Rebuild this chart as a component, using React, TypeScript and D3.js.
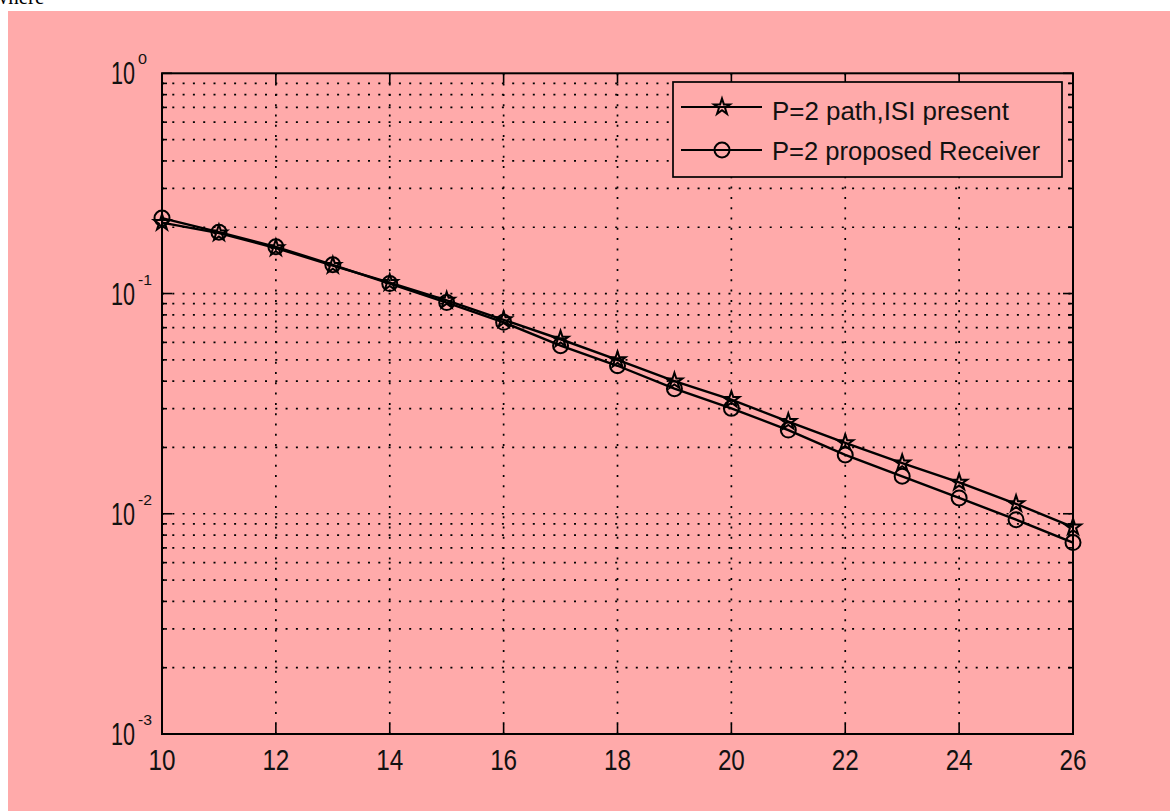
import * as d3 from "d3";

// SNR (dB) values on the x axis
const snr = [10, 11, 12, 13, 14, 15, 16, 17, 18, 19, 20, 21, 22, 23, 24, 25, 26];

// BER, P=2 path with ISI present (star markers)
const berIsi = [0.21, 0.188, 0.161, 0.134, 0.112, 0.093, 0.076, 0.062, 0.05, 0.04, 0.033, 0.0262, 0.021, 0.017, 0.0139, 0.0111, 0.0087];

// BER, P=2 proposed receiver (circle markers)
const berProposed = [0.22, 0.19, 0.163, 0.135, 0.111, 0.091, 0.074, 0.058, 0.047, 0.037, 0.0301, 0.024, 0.0185, 0.0148, 0.0118, 0.0094, 0.0074];

const xTicks = [10, 12, 14, 16, 18, 20, 22, 24, 26];
const yDecades = [-3, -2, -1, 0];

const legendLabels = ["P=2 path,ISI present", "P=2 proposed Receiver"];

const PINK = "#ffaaaa";
const FONT = "'Liberation Sans', Arial, sans-serif";

export default function App() {
  const W = 1170;
  const H = 811;
  const x = d3.scaleLinear().domain([10, 26]).range([162, 1073]);
  const y = d3.scaleLog().domain([1e-3, 1]).range([734, 73.3]);
  const [x0, x1] = x.range();
  const [y0, y1] = y.range();

  // minor + major y tick values
  const yMinor: number[] = [];
  for (let e = -3; e < 0; e++) {
    for (let m = 2; m <= 9; m++) yMinor.push(m * Math.pow(10, e));
  }
  const yMajor = yDecades.map((e) => Math.pow(10, e));

  const line = d3
    .line<number>()
    .x((_, i) => x(snr[i]))
    .y((d) => y(d));

  const star = d3.symbol().type(d3.symbolStar).size(80)() as string;

  const dot = "2 8.3";

  return (
    <div style={{ position: "absolute", left: 0, top: 0 }}>
      <svg width={W} height={H} style={{ display: "block" }}>
        <rect x={0} y={0} width={W} height={H} fill="#fff" />
        <text x={-7} y={4} fontFamily="'Liberation Serif', 'Times New Roman', serif" fontSize={21} fill="#000">
          where
        </text>
        <rect x={8} y={11} width={W - 8} height={H - 11} fill={PINK} />

        {/* grid */}
        <g stroke="#000" strokeWidth={1.7} strokeDasharray={dot}>
          {xTicks.slice(1, -1).map((t) => (
            <line key={"gx" + t} x1={x(t)} x2={x(t)} y1={y1} y2={y0} />
          ))}
          {[...yMinor, ...yMajor.slice(1, -1)].map((t) => (
            <line key={"gy" + t} x1={x0} x2={x1} y1={y(t)} y2={y(t)} />
          ))}
        </g>

        {/* ticks */}
        <g stroke="#000" strokeWidth={1.6}>
          {xTicks.map((t) => (
            <g key={"tx" + t}>
              <line x1={x(t)} x2={x(t)} y1={y0} y2={y0 - 10} />
              <line x1={x(t)} x2={x(t)} y1={y1} y2={y1 + 10} />
            </g>
          ))}
          {yMinor.map((t) => (
            <g key={"ty" + t}>
              <line x1={x0} x2={x0 + 5} y1={y(t)} y2={y(t)} />
              <line x1={x1} x2={x1 - 5} y1={y(t)} y2={y(t)} />
            </g>
          ))}
          {yMajor.map((t) => (
            <g key={"tY" + t}>
              <line x1={x0} x2={x0 + 10} y1={y(t)} y2={y(t)} />
              <line x1={x1} x2={x1 - 10} y1={y(t)} y2={y(t)} />
            </g>
          ))}
        </g>

        {/* axes box */}
        <rect x={x0} y={y1} width={x1 - x0} height={y0 - y1} fill="none" stroke="#000" strokeWidth={2} />

        {/* tick labels */}
        <g fontFamily={FONT} fill="#111">
          {xTicks.map((t) => (
            <text
              key={"lx" + t}
              x={x(t)}
              y={y0 + 36}
              fontSize={29}
              textAnchor="middle"
              textLength={27}
              lengthAdjust="spacingAndGlyphs"
            >
              {t}
            </text>
          ))}
          {yDecades.map((e) => (
            <g key={"ly" + e}>
              <text
                x={135}
                y={y(Math.pow(10, e)) + 11}
                fontSize={31}
                textAnchor="end"
                textLength={24}
                lengthAdjust="spacingAndGlyphs"
              >
                10
              </text>
              <text
                x={138}
                y={y(Math.pow(10, e)) - 9}
                fontSize={14}
                textLength={e === 0 ? 9 : 14}
                lengthAdjust="spacingAndGlyphs"
              >
                {e === 0 ? "0" : String(e)}
              </text>
            </g>
          ))}
        </g>

        {/* series */}
        <g fill="none" stroke="#000" strokeWidth={2.4}>
          <path d={line(berIsi) as string} />
          <path d={line(berProposed) as string} />
          {berIsi.map((v, i) => (
            <path key={"s" + i} d={star} transform={`translate(${x(snr[i])},${y(v)})`} strokeWidth={2} />
          ))}
          {berProposed.map((v, i) => (
            <circle key={"c" + i} cx={x(snr[i])} cy={y(v)} r={7.5} strokeWidth={2} />
          ))}
        </g>

        {/* legend */}
        <rect x={673} y={82} width={389} height={95} fill={PINK} stroke="#000" strokeWidth={1.7} />
        {legendLabels.map((lab, i) => {
          const ly = i === 0 ? 107 : 150;
          const ty = i === 0 ? 120 : 160;
          return (
            <g key={lab}>
              <line x1={681} x2={762} y1={ly} y2={ly} stroke="#000" strokeWidth={1.8} />
              {i === 0 ? (
                <path d={star} transform={`translate(722,${ly})`} fill="none" stroke="#000" strokeWidth={2} />
              ) : (
                <circle cx={722} cy={ly} r={7.5} fill="none" stroke="#000" strokeWidth={2} />
              )}
              <text
                x={772}
                y={ty}
                fontFamily={FONT}
                fontSize={25}
                fill="#111"
                textLength={i === 0 ? 237 : 268}
                lengthAdjust="spacingAndGlyphs"
              >
                {lab}
              </text>
            </g>
          );
        })}
      </svg>
    </div>
  );
}
